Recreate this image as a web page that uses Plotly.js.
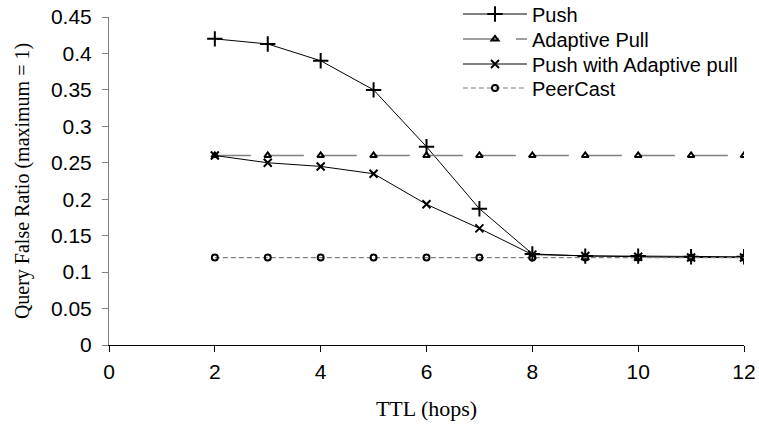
<!DOCTYPE html>
<html>
<head>
<meta charset="utf-8">
<script src="https://cdn.plot.ly/plotly-3.0.1.min.js"></script>
<style>
  html, body { margin: 0; padding: 0; background: #fff; }
  #chart { width: 759px; height: 433px; }
</style>
</head>
<body>
<div id="chart"></div>
<script>
// TTL values (hops) on the x axis
const ttl = [2, 3, 4, 5, 6, 7, 8, 9, 10, 11, 12];

// Query false ratio per scheme
const push = [0.42, 0.413, 0.39, 0.35, 0.272, 0.187, 0.125, 0.122, 0.122, 0.121, 0.121];
const adaptivePull = [0.26, 0.26, 0.26, 0.26, 0.26, 0.26, 0.26, 0.26, 0.26, 0.26, 0.26];
const pushAdaptive = [0.26, 0.25, 0.245, 0.235, 0.193, 0.16, 0.124, 0.122, 0.121, 0.12, 0.12];
const peerCast = [0.12, 0.12, 0.12, 0.12, 0.12, 0.12, 0.12, 0.12, 0.12, 0.12, 0.12];

const seriesNames = ["Push", "Adaptive Pull", "Push with Adaptive pull", "PeerCast"];
const xTicks = [0, 2, 4, 6, 8, 10, 12];
const yTicks = [0, 0.05, 0.1, 0.15, 0.2, 0.25, 0.3, 0.35, 0.4, 0.45];
const yTickText = ["0", "0.05", "0.1", "0.15", "0.2", "0.25", "0.3", "0.35", "0.4", "0.45"];

const sans = "Liberation Sans, Arial, sans-serif";
const serif = "Liberation Serif, Times New Roman, serif";

const traces = [
  {
    x: ttl, y: push, name: seriesNames[0], type: "scatter", mode: "lines+markers",
    legend: "legend",
    line: { color: "#000", width: 1 },
    marker: { symbol: "cross-thin-open", size: 11, color: "#000", line: { color: "#000", width: 2 } }
  },
  {
    x: ttl, y: adaptivePull, name: seriesNames[1], type: "scatter", mode: "lines+markers",
    legend: "legend2",
    line: { color: "#808080", width: 1.5, dash: "36px,17px" },
    marker: { symbol: "triangle-up-open", size: 6, color: "#000", line: { color: "#000", width: 2 } }
  },
  {
    x: ttl, y: pushAdaptive, name: seriesNames[2], type: "scatter", mode: "lines+markers",
    legend: "legend3",
    line: { color: "#000", width: 1 },
    marker: { symbol: "x-thin-open", size: 8, color: "#000", line: { color: "#000", width: 2 } }
  },
  {
    x: ttl, y: peerCast, name: seriesNames[3], type: "scatter", mode: "lines+markers",
    legend: "legend4",
    line: { color: "#808080", width: 1.2, dash: "5px,3px" },
    marker: { symbol: "circle-open", size: 6, color: "#000", line: { color: "#000", width: 2 } }
  }
];

// one single-entry legend per series, stacked in the upper right
function legendAt(y) {
  return {
    x: 0.5496, y: y, xanchor: "left", yanchor: "middle",
    bgcolor: "rgba(255,255,255,0)", borderwidth: 0,
    font: { family: sans, size: 20, color: "#000" },
    itemwidth: 64
  };
}

const layout = {
  width: 759, height: 433,
  margin: { l: 109, r: 15, t: 17, b: 88, autoexpand: false },
  paper_bgcolor: "#fff", plot_bgcolor: "#fff",
  font: { family: sans, size: 21, color: "#000" },
  showlegend: true,
  legend: legendAt(1.0091),
  legend2: legendAt(0.9329),
  legend3: legendAt(0.8567),
  legend4: legendAt(0.7835),
  xaxis: {
    range: [0, 12], tickvals: xTicks, ticktext: xTicks.map(String),
    showgrid: false, zeroline: false, showline: true, linecolor: "#000", linewidth: 1,
    ticks: "outside", ticklen: 6, tickcolor: "#000", ticklabelstandoff: 2,
    tickfont: { family: sans, size: 21 },
    title: { text: "TTL (hops)", font: { family: serif, size: 22 }, standoff: 18 }
  },
  yaxis: {
    range: [0, 0.45], tickvals: yTicks, ticktext: yTickText,
    showgrid: false, zeroline: false, showline: true, linecolor: "#808080", linewidth: 1,
    ticks: "outside", ticklen: 6, tickcolor: "#808080", ticklabelstandoff: 6,
    tickfont: { family: sans, size: 21 },
    title: { text: "Query False Ratio (maximum = 1)", font: { family: serif, size: 20 }, standoff: 15 }
  }
};

Plotly.newPlot("chart", traces, layout, { displayModeBar: false, staticPlot: true });
</script>
</body>
</html>
